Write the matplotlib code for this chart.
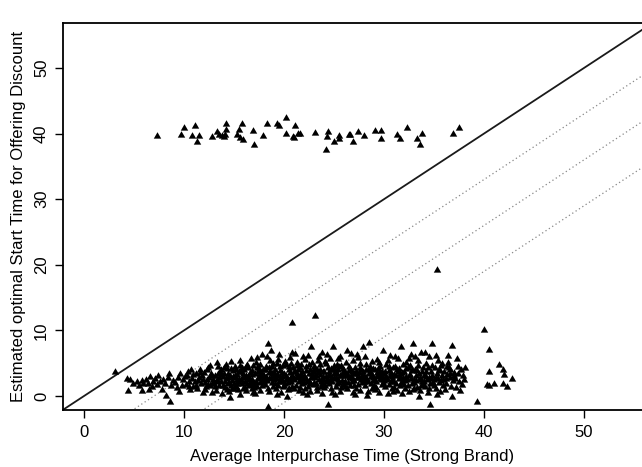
import matplotlib
matplotlib.use("Agg")
import matplotlib.pyplot as plt

plt.rcParams['font.family'] = ['Liberation Sans', 'DejaVu Sans']

# ---------------- data ----------------
upper_x = [7.3, 10.0, 9.7, 11.1, 10.8, 11.5, 11.3, 12.8, 13.3, 13.5, 13.8, 14.2, 14.2, 14.1,
           14.0, 15.8, 15.5, 15.3, 15.6, 15.9, 16.9, 17.0, 17.9, 18.3, 19.3, 19.5, 20.2, 21.1,
           20.2, 21.0, 21.4, 21.6, 20.9, 23.1, 24.4, 24.3, 24.2, 25.0, 25.5, 25.5, 26.5, 26.6,
           26.9, 27.4, 28.0, 29.1, 29.7, 29.7, 31.3, 31.6, 32.3, 33.8, 33.3, 33.6, 36.9, 37.5]
upper_y = [39.6, 40.8, 39.8, 41.1, 39.7, 39.7, 38.7, 39.5, 40.3, 39.8, 39.6, 41.5, 40.5, 39.8,
           39.5, 41.4, 40.5, 39.8, 39.3, 39.0, 40.4, 38.2, 39.7, 41.4, 41.4, 41.1, 42.3, 41.2,
           39.9, 39.4, 40.0, 40.0, 39.5, 40.1, 40.3, 39.5, 37.5, 38.7, 39.7, 39.1, 39.8, 39.8,
           38.7, 40.2, 39.7, 40.4, 40.4, 39.1, 39.8, 39.1, 40.9, 39.9, 39.1, 38.3, 39.9, 40.9]

lower_pts = [
    (3.1, 3.6), (4.3, 2.6), (4.4, 0.7), (4.6, 2.4), (4.9, 1.9),
    (5.3, 2.2), (5.5, 1.6), (5.8, 2.3), (5.8, 0.7), (5.9, 1.9),
    (6.2, 2.5), (6.4, 1.8), (6.6, 2.9), (6.8, 1.4), (6.5, 0.9), (6.9, 2.1),
    (7.1, 2.6), (7.3, 1.7), (7.6, 2.2), (7.8, 0.9), (7.4, 3.1), (7.9, 2.4),
    (8.1, 1.9), (8.2, 0.0), (8.4, 2.8), (8.6, -0.9), (8.7, 1.5), (8.9, 2.3), (8.5, 3.3),
    (9.1, 2.0), (9.3, 1.2), (9.4, 2.7), (9.6, 3.3), (9.8, 1.6), (9.9, 2.4), (9.5, 0.6),
    (10.1, 2.9), (10.2, 1.7), (10.4, 3.6), (10.5, 2.2), (10.6, 0.9), (10.8, 2.6), (10.9, 1.4),
    (10.3, 3.1), (10.7, 3.9), (10.5, 1.3), (10.9, 3.2),
    (11.1, 2.1), (11.2, 3.3), (11.3, 1.1), (11.5, 2.7), (11.6, 4.0), (11.7, 1.8), (11.8, 3.0),
    (11.9, 0.4), (11.4, 2.3), (11.2, 1.5), (11.6, 3.5), (11.9, 2.5),
    (12.0, 3.5), (12.1, 2.0), (12.2, 1.3), (12.4, 4.2), (12.5, 2.8), (12.6, 1.6), (12.7, 3.3),
    (12.8, 0.5), (12.9, 2.4), (12.3, 3.9), (12.6, 4.6), (12.3, 2.5), (12.8, 1.9), (12.1, 0.9),
    (13.0, 1.9), (13.1, 3.1), (13.2, 0.8), (13.3, 2.5), (13.4, 4.4), (13.5, 1.5), (13.6, 3.7),
    (13.7, 2.2), (13.8, 0.3), (13.9, 2.9), (13.3, 5.0), (13.7, 4.0), (13.5, 2.8), (13.1, 1.3),
    (13.9, 1.6), (13.4, 3.4),
    (14.0, 3.4), (14.1, 1.2), (14.2, 2.6), (14.3, 4.1), (14.4, 1.9), (14.5, 0.6), (14.6, 3.0),
    (14.7, 5.2), (14.8, 2.3), (14.9, 3.8), (14.2, 4.7), (14.5, 2.0), (14.8, 1.0), (14.4, 3.3),
    (14.6, -0.3), (14.1, 2.2), (14.7, 1.5), (14.9, 2.9), (14.3, 0.9),
    (15.0, 2.7), (15.1, 4.5), (15.2, 1.4), (15.3, 3.2), (15.4, 0.9), (15.5, 2.4), (15.6, 5.4),
    (15.7, 3.6), (15.8, 1.8), (15.9, 2.9), (15.2, 4.0), (15.4, 2.1), (15.6, 0.2), (15.8, 4.3),
    (15.1, 3.0), (15.9, 1.1), (15.3, 1.9), (15.7, 2.5), (15.5, 3.7), (15.0, 1.0),
    (16.0, 3.9), (16.1, 2.2), (16.2, 0.7), (16.3, 4.8), (16.4, 2.9), (16.5, 1.5), (16.6, 3.5),
    (16.7, 5.6), (16.8, 2.5), (16.9, 0.4), (16.2, 3.1), (16.4, 4.2), (16.6, 1.9), (16.8, 3.8),
    (16.1, 1.2), (16.5, 2.7), (16.9, 4.6), (16.3, 1.8), (16.7, 2.1), (16.0, 2.8), (16.8, 1.1),
    (17.0, 2.0), (17.1, 3.4), (17.2, 5.0), (17.3, 1.3), (17.4, 2.8), (17.5, 4.1), (17.6, 0.8),
    (17.7, 3.1), (17.8, 6.2), (17.9, 2.4), (17.2, 2.2), (17.4, 3.7), (17.6, 4.7), (17.8, 1.6),
    (17.1, 0.3), (17.5, 2.6), (17.9, 3.9), (17.3, 5.8), (17.0, 1.2), (17.6, 2.0), (17.8, 3.3),
    (18.0, 3.0), (18.1, 1.7), (18.2, 4.4), (18.3, 2.3), (18.4, 7.9), (18.5, 0.6), (18.6, 3.6),
    (18.7, 6.9), (18.8, 2.0), (18.9, 4.9), (18.4, -1.7), (18.2, 2.9), (18.4, 1.1), (18.6, 5.3),
    (18.8, 3.3), (18.1, 3.9), (18.5, 2.6), (18.9, 1.4), (18.3, 5.9), (18.0, 2.1), (18.7, 2.7),
    (18.5, 4.2),
    (19.0, 2.5), (19.1, 4.0), (19.2, 1.0), (19.3, 3.2), (19.4, 5.5), (19.5, 2.1), (19.6, 3.8),
    (19.7, 0.5), (19.8, 2.9), (19.9, 4.6), (19.2, 2.6), (19.4, 1.6), (19.6, 4.5), (19.8, 3.5),
    (19.1, 1.9), (19.5, 6.3), (19.9, 1.3), (19.3, 0.1), (19.0, 3.5), (19.7, 2.3), (19.4, 3.0),
    (20.0, 3.3), (20.1, 1.8), (20.2, 4.7), (20.3, 2.6), (20.4, 0.9), (20.5, 3.9), (20.6, 5.8),
    (20.7, 2.2), (20.8, 1.3), (20.9, 4.2), (20.2, 3.0), (20.4, 2.0), (20.6, 3.5), (20.8, 6.6),
    (20.1, 5.2), (20.5, 1.0), (20.9, 2.8), (20.3, -0.2), (20.7, 4.9), (20.0, 1.5), (20.6, 2.6),
    (21.0, 2.4), (21.1, 3.7), (21.2, 1.5), (21.3, 5.1), (21.4, 2.9), (21.5, 0.7), (21.6, 4.3),
    (21.7, 3.2), (21.8, 1.9), (21.9, 5.9), (21.2, 2.7), (21.4, 4.0), (21.6, 1.2), (21.8, 3.6),
    (21.1, 6.4), (21.5, 2.1), (21.9, 0.4), (21.3, 3.4), (21.7, 4.8), (21.0, 1.0), (21.6, 2.5),
    (22.0, 3.0), (22.1, 1.1), (22.2, 4.5), (22.3, 2.2), (22.4, 6.1), (22.5, 3.4), (22.6, 0.6),
    (22.7, 2.7), (22.8, 5.0), (22.9, 1.7), (22.2, 3.8), (22.4, 1.4), (22.6, 4.0), (22.8, 2.9),
    (22.1, 5.5), (22.5, 2.3), (22.9, 3.6), (22.3, 0.1), (22.7, 7.5), (22.6, 1.9), (22.0, 2.0),
    (23.0, 2.0), (23.1, 4.2), (23.2, 3.1), (23.3, 0.8), (23.4, 5.3), (23.5, 2.5), (23.6, 3.9),
    (23.7, 1.4), (23.8, 6.6), (23.9, 2.9), (23.2, 1.8), (23.4, 3.5), (23.6, 4.8), (23.8, 0.3),
    (23.1, 2.7), (23.5, 5.9), (23.9, 3.7), (23.3, 1.2), (23.7, 2.2), (23.0, 3.6), (23.8, 1.8),
    (24.0, 3.6), (24.1, 1.6), (24.2, 4.9), (24.3, 2.4), (24.4, -1.4), (24.5, 3.2), (24.6, 5.7),
    (24.7, 1.0), (24.8, 2.8), (24.9, 7.4), (24.2, 2.1), (24.4, 4.3), (24.6, 3.0), (24.8, 0.5),
    (24.1, 5.2), (24.5, 1.9), (24.9, 3.9), (24.3, 6.2), (24.7, 4.1), (24.0, 1.2), (24.6, 2.4),
    (25.0, 2.6), (25.1, 4.0), (25.2, 1.3), (25.3, 3.4), (25.4, 5.6), (25.5, 2.0), (25.6, 0.6),
    (25.7, 4.6), (25.8, 3.1), (25.9, 1.7), (25.2, 2.8), (25.4, 3.9), (25.6, 6.0), (25.8, 2.3),
    (25.1, 0.2), (25.5, 4.4), (25.9, 3.5), (25.3, 1.9), (25.0, 3.3), (25.7, 1.2), (25.4, 2.5),
    (26.0, 3.8), (26.1, 2.2), (26.2, 5.1), (26.3, 1.0), (26.4, 3.0), (26.5, 4.5), (26.6, 1.6),
    (26.7, 6.4), (26.8, 2.6), (26.9, 0.4), (26.2, 3.4), (26.4, 2.0), (26.6, 4.1), (26.8, 3.6),
    (26.1, 1.3), (26.5, 2.8), (26.9, 5.3), (26.3, 6.9), (26.0, 2.0), (26.7, 3.0),
    (27.0, 2.3), (27.1, 4.3), (27.2, 1.1), (27.3, 3.3), (27.4, 5.8), (27.5, 2.7), (27.6, 0.8),
    (27.7, 4.0), (27.8, 2.0), (27.9, 7.5), (27.2, 3.7), (27.4, 1.7), (27.6, 4.9), (27.8, 3.0),
    (27.1, 0.2), (27.5, 3.5), (27.9, 2.5), (27.3, 6.3), (27.0, 1.5), (27.7, 2.4),
    (28.0, 3.1), (28.1, 1.5), (28.2, 4.7), (28.3, 2.4), (28.4, 0.6), (28.5, 8.1), (28.6, 3.6),
    (28.7, 1.9), (28.8, 5.2), (28.9, 2.8), (28.2, 3.9), (28.4, 2.1), (28.6, 4.4), (28.8, 1.0),
    (28.1, 5.9), (28.5, 3.3), (28.9, 4.1), (28.3, 0.0), (28.0, 2.2), (28.7, 2.9),
    (29.0, 2.5), (29.1, 3.9), (29.2, 1.2), (29.3, 5.5), (29.4, 2.9), (29.5, 0.5), (29.6, 4.5),
    (29.7, 3.2), (29.8, 1.7), (29.9, 6.9), (29.2, 2.2), (29.4, 4.1), (29.6, 2.6), (29.8, 3.7),
    (29.1, 0.9), (29.5, 5.1), (29.9, 2.0), (29.0, 1.6), (29.7, 2.4), (29.3, 3.5),
    (30.0, 3.4), (30.1, 1.4), (30.2, 4.8), (30.3, 2.6), (30.4, 0.3), (30.5, 3.8), (30.6, 6.1),
    (30.7, 2.1), (30.8, 1.0), (30.9, 4.2), (30.2, 2.9), (30.4, 5.4), (30.6, 3.1), (30.8, 2.4),
    (30.1, 3.7), (30.5, 1.7), (30.9, 0.6), (30.0, 2.3), (30.7, 3.5),
    (31.0, 2.2), (31.1, 4.4), (31.2, 3.0), (31.3, 0.8), (31.4, 5.7), (31.5, 2.6), (31.6, 1.5),
    (31.7, 7.5), (31.8, 3.5), (31.9, 4.8), (31.2, 1.9), (31.4, 3.7), (31.6, 2.9), (31.8, 0.3),
    (31.1, 6.0), (31.5, 4.1), (31.9, 2.4), (31.0, 1.2), (31.7, 2.0),
    (32.0, 3.6), (32.1, 1.1), (32.2, 5.0), (32.3, 2.5), (32.4, 4.2), (32.5, 0.6), (32.6, 3.2),
    (32.7, 6.3), (32.8, 1.8), (32.9, 7.9), (32.2, 2.9), (32.4, 1.5), (32.6, 4.6), (32.8, 3.9),
    (32.1, 2.3), (32.5, 5.6), (32.9, 0.9), (32.0, 1.7), (32.7, 2.6),
    (33.0, 2.0), (33.1, 4.0), (33.2, 3.1), (33.3, 1.2), (33.4, 5.4), (33.5, -0.1), (33.6, 2.7),
    (33.7, 6.5), (33.8, 3.6), (33.9, 1.7), (33.2, 2.3), (33.4, 4.6), (33.6, 0.7), (33.8, 2.1),
    (33.1, 5.9), (33.5, 3.3), (33.0, 1.0), (33.7, 1.5),
    (34.0, 3.0), (34.1, 1.4), (34.2, 4.9), (34.3, 2.4), (34.4, 0.4), (34.5, 5.9), (34.6, -1.3),
    (34.7, 3.6), (34.8, 8.0), (34.9, 2.0), (34.2, 2.9), (34.4, 4.2), (34.6, 1.8), (34.8, 3.1),
    (34.1, 6.6), (34.5, 1.0), (34.0, 2.2), (34.7, 2.6),
    (35.0, 2.5), (35.1, 4.3), (35.2, 1.1), (35.3, 3.4), (35.4, 5.3), (35.5, 2.0), (35.6, 0.6),
    (35.7, 4.6), (35.8, 3.0), (35.9, 1.6), (35.2, 6.1), (35.4, 2.6), (35.6, 3.8), (35.8, 4.9),
    (35.3, 0.2), (35.0, 1.5), (35.7, 2.3),
    (36.0, 3.7), (36.2, 1.9), (36.4, 5.0), (36.6, 2.8), (36.8, 7.7), (36.8, -0.1), (36.1, 0.9),
    (36.3, 3.2), (36.5, 4.2), (36.7, 1.4), (36.9, 2.3), (36.4, 6.1), (36.2, 2.6), (36.6, 3.9),
    (37.0, 3.5), (37.2, 1.2), (37.4, 4.5), (37.6, 0.8), (37.8, 1.7), (37.1, 2.6), (37.3, 5.6),
    (37.5, 2.2), (37.7, 3.9), (37.9, 3.0), (38.1, 4.2), (38.0, 2.4),
    (39.3, -0.9), (40.0, 10.1), (40.5, 7.0), (40.5, 3.6), (40.3, 1.7), (40.5, 1.5), (41.0, 1.8),
    (41.5, 4.7), (41.9, 4.0), (42.0, 3.2), (42.8, 2.6), (41.9, 1.8), (42.3, 1.3),
    (35.3, 19.2), (23.1, 12.2), (20.8, 11.2),
]
# extra points filling the dense core of the lower band
core_pts = [
    (12.35, 1.7), (12.75, 3.0), (13.25, 2.1), (13.65, 3.2), (13.95, 4.3), (14.35, 2.8),
    (14.65, 4.1), (14.95, 1.8), (15.25, 2.5), (15.55, 4.6), (15.85, 3.4), (16.15, 4.5),
    (16.45, 2.4), (16.75, 3.2), (16.95, 1.7), (17.25, 4.3), (17.55, 3.3), (17.85, 2.9),
    (18.15, 2.5), (18.45, 3.5), (18.75, 4.5), (18.95, 3.0), (19.25, 4.9), (19.55, 2.8),
    (19.85, 2.2), (20.15, 2.4), (20.45, 4.4), (20.75, 3.1), (20.95, 3.6), (21.25, 4.6),
    (21.55, 3.0), (21.85, 2.6), (22.15, 2.6), (22.45, 4.8), (22.75, 3.3), (22.95, 4.4),
    (23.25, 4.0), (23.55, 3.2), (23.85, 2.5), (24.15, 2.9), (24.45, 3.6), (24.75, 2.1),
    (24.95, 4.6), (25.25, 4.8), (25.55, 3.0), (25.85, 4.1), (26.15, 3.0), (26.45, 3.8),
    (26.75, 2.2), (26.95, 3.3), (27.25, 2.8), (27.55, 4.3), (27.85, 3.6), (28.15, 2.7),
    (28.45, 3.9), (28.75, 3.2), (28.95, 2.3), (29.25, 3.0), (29.55, 3.6), (29.85, 2.8),
    (30.15, 2.5), (30.45, 4.4), (30.75, 2.9), (30.95, 3.2), (31.25, 4.0), (31.55, 3.3),
    (31.85, 2.8), (32.15, 4.1), (32.45, 3.0), (32.75, 3.8), (32.95, 2.4), (33.25, 3.8),
    (33.55, 2.5), (33.85, 4.2), (34.15, 3.7), (34.45, 2.7), (34.75, 4.6), (35.15, 2.8),
    (35.45, 4.0), (35.85, 2.5), (36.25, 4.4), (36.55, 3.3), (36.95, 3.1), (37.35, 3.4),
]
lower_x = [p[0] for p in lower_pts + core_pts]
lower_y = [p[1] for p in lower_pts + core_pts]

x_ticks = [0, 10, 20, 30, 40, 50]
y_ticks = [0, 10, 20, 30, 40, 50]
solid_offset = 0               # y = x
dotted_offsets = [7, 14, 21]   # y = x - offset
x_label = "Average Interpurchase Time (Strong Brand)"
y_label = "Estimated optimal Start Time for Offering Discount"

# equilateral filled triangle, like R's pch = 17
tri_marker = [(-1.0, -0.577), (1.0, -0.577), (0.0, 1.155), (-1.0, -0.577)]

# ---------------- figure ----------------
W, H = 642, 467
fig = plt.figure(figsize=(W / 100, H / 100), dpi=100)
left, right, bottom, top = 63, 642, 410, 22.7
ax = fig.add_axes([left / W, (H - bottom) / H, (right - left) / W, (bottom - top) / H])
ax.set_xlim(-2.1, 55.8)
ax.set_ylim(-2.13, 56.9)

line_x = [-5, 70]
ax.plot(line_x, [v - solid_offset for v in line_x], color='#1a1a1a', lw=1.3, zorder=2)
for off in dotted_offsets:
    ax.plot(line_x, [v - off for v in line_x], color='#888888', lw=0.9,
            linestyle=(0, (1, 2.2)), zorder=2)

ax.plot(upper_x + lower_x, upper_y + lower_y, linestyle='none', marker=tri_marker,
        markersize=6.2, color='black', markeredgewidth=0, zorder=3)

for s in ['left', 'bottom', 'top']:
    ax.spines[s].set_linewidth(1.3)
    ax.spines[s].set_color('black')
ax.spines['right'].set_visible(False)

ax.set_xticks(x_ticks)
ax.set_yticks(y_ticks)
ax.tick_params(axis='both', direction='out', length=6, width=1, colors='black',
               labelsize=12, pad=5)
ax.tick_params(axis='y', pad=4)
for lab in ax.get_yticklabels():
    lab.set_rotation(90)
    lab.set_va('center')

ax.set_xlabel(x_label, fontsize=12, labelpad=6)
ax.set_ylabel(y_label, fontsize=12, labelpad=6)

fig.savefig("out.png", dpi=100)
